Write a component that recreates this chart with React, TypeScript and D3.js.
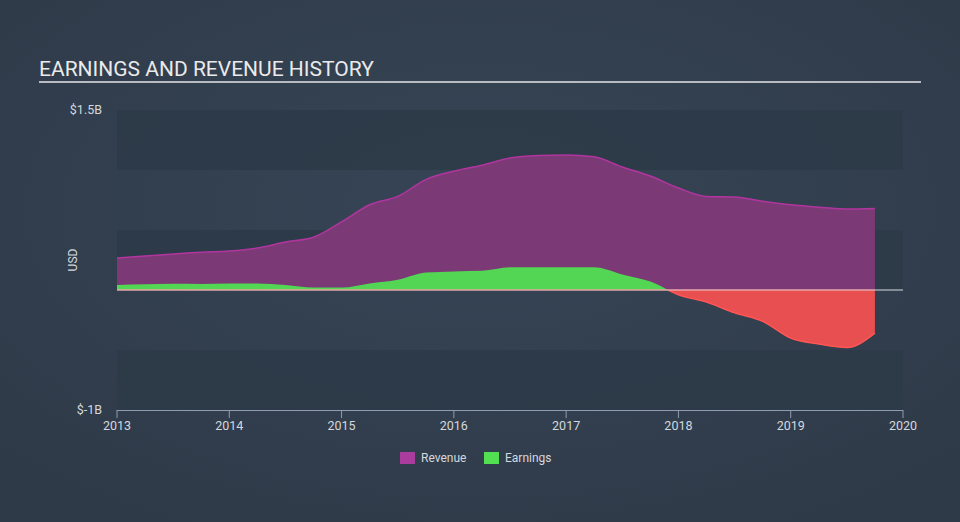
import React from "react";
import * as d3 from "d3";

const years = [2013, 2014, 2015, 2016, 2017, 2018, 2019, 2020];
const yTickLabels = ["$1.5B", "$-1B"];
const yTickValues = [1.5, -1];

const dates = [
  2013.0, 2013.25, 2013.5, 2013.75, 2014.0, 2014.25, 2014.5, 2014.75,
  2015.0, 2015.25, 2015.5, 2015.75, 2016.0, 2016.25, 2016.5, 2016.75,
  2017.0, 2017.25, 2017.5, 2017.75, 2018.0, 2018.25, 2018.5, 2018.75,
  2019.0, 2019.25, 2019.5, 2019.75,
];
const revenue = [
  0.267, 0.283, 0.3, 0.315, 0.325, 0.35, 0.4, 0.44,
  0.567, 0.71, 0.78, 0.92, 0.99, 1.04, 1.1, 1.12,
  1.125, 1.11, 1.025, 0.95, 0.85, 0.78, 0.775, 0.74,
  0.71, 0.69, 0.675, 0.68,
];
const earnings = [
  0.042, 0.048, 0.052, 0.05, 0.055, 0.055, 0.042, 0.02,
  0.02, 0.055, 0.085, 0.145, 0.155, 0.16, 0.19, 0.19,
  0.19, 0.19, 0.13, 0.07, -0.04, -0.1, -0.19, -0.26,
  -0.4, -0.45, -0.48, -0.36,
];

const W = 960;
const H = 522;
const left = 117;
const right = 903;
const top = 110;
const bottom = 410;

export default function App() {
  const x = d3.scaleLinear().domain([2013, 2020]).range([left, right]);
  const y = d3.scaleLinear().domain([-1, 1.5]).range([bottom, top]);
  const rev = dates.map((d, i) => ({ d, v: revenue[i] }));
  const ear = dates.map((d, i) => ({ d, v: earnings[i] }));
  const curve = d3.curveMonotoneX;
  const areaGen = d3
    .area<{ d: number; v: number }>()
    .x((p) => x(p.d))
    .y0(y(0))
    .y1((p) => y(p.v))
    .curve(curve);
  const lineGen = d3
    .line<{ d: number; v: number }>()
    .x((p) => x(p.d))
    .y((p) => y(p.v))
    .curve(curve);
  const bands = [
    [1.5, 1.0],
    [0.5, 0.0],
    [-0.5, -1.0],
  ];
  const lastX = x(dates[dates.length - 1]);
  const font = "Roboto, 'Open Sans', sans-serif";
  return (
    <svg width={W} height={H} style={{ display: "block", position: "absolute", left: 0, top: 0 }}>
      <defs>
        <radialGradient id="bg" cx="50%" cy="40%" r="70%">
          <stop offset="0%" stopColor="#364556" />
          <stop offset="100%" stopColor="#2f3a48" />
        </radialGradient>
        <clipPath id="pos">
          <rect x={left} y={top} width={right - left} height={y(0) - top} />
        </clipPath>
        <clipPath id="neg">
          <rect x={left} y={y(0)} width={right - left} height={bottom - y(0)} />
        </clipPath>
      </defs>
      <rect x={0} y={0} width={W} height={H} fill="url(#bg)" />
      <text x={39} y={76} fill="#eaeaea" fontSize={21} fontFamily={font}>
        EARNINGS AND REVENUE HISTORY
      </text>
      <rect x={39} y={81} width={882} height={2} fill="#b8bcc2" />
      {bands.map(([a, b], i) => (
        <rect key={i} x={left} y={y(a)} width={right - left} height={y(b) - y(a)} fill="#2d3948" opacity={0.85} />
      ))}
      <path d={areaGen(rev) || ""} fill="#7b3a75" />
      <path d={lineGen(rev) || ""} fill="none" stroke="#b2359f" strokeWidth={1.5} />
      <g clipPath="url(#pos)">
        <path d={areaGen(ear) || ""} fill="#52d653" />
      </g>
      <g clipPath="url(#neg)">
        <path d={areaGen(ear) || ""} fill="#e84f50" />
        <path d={lineGen(ear) || ""} fill="none" stroke="#ff5555" strokeWidth={1.5} />
      </g>
      <line x1={left} x2={right} y1={y(0)} y2={y(0)} stroke="#d8dce2" strokeWidth={1} />
      <line x1={left} x2={lastX} y1={y(0)} y2={y(0)} stroke="#f08a8a" strokeWidth={1} />
      {yTickValues.map((v, i) => (
        <text key={i} x={102} y={y(v) + 4} textAnchor="end" fill="#d4d8de" fontSize={12.5} fontFamily={font}>
          {yTickLabels[i]}
        </text>
      ))}
      <text
        transform={`translate(77,${(top + bottom) / 2}) rotate(-90)`}
        textAnchor="middle"
        fill="#d4d8de"
        fontSize={12}
        fontFamily={font}
      >
        USD
      </text>
      <line x1={left} x2={right} y1={bottom + 0.5} y2={bottom + 0.5} stroke="#8d9cb0" strokeWidth={1} />
      {years.map((yr) => (
        <g key={yr}>
          <line x1={x(yr)} x2={x(yr)} y1={bottom} y2={bottom + 8} stroke="#8d9cb0" strokeWidth={1} />
          <text x={x(yr)} y={bottom + 20} textAnchor="middle" fill="#d4d8de" fontSize={12.5} fontFamily={font}>
            {yr}
          </text>
        </g>
      ))}
      <rect x={400} y={452} width={15} height={12} fill="#a93c9c" />
      <text x={421} y={462} fill="#d4d8de" fontSize={12} fontFamily={font}>
        Revenue
      </text>
      <rect x={484} y={452} width={15} height={12} fill="#52e052" />
      <text x={505} y={462} fill="#d4d8de" fontSize={12} fontFamily={font}>
        Earnings
      </text>
    </svg>
  );
}
